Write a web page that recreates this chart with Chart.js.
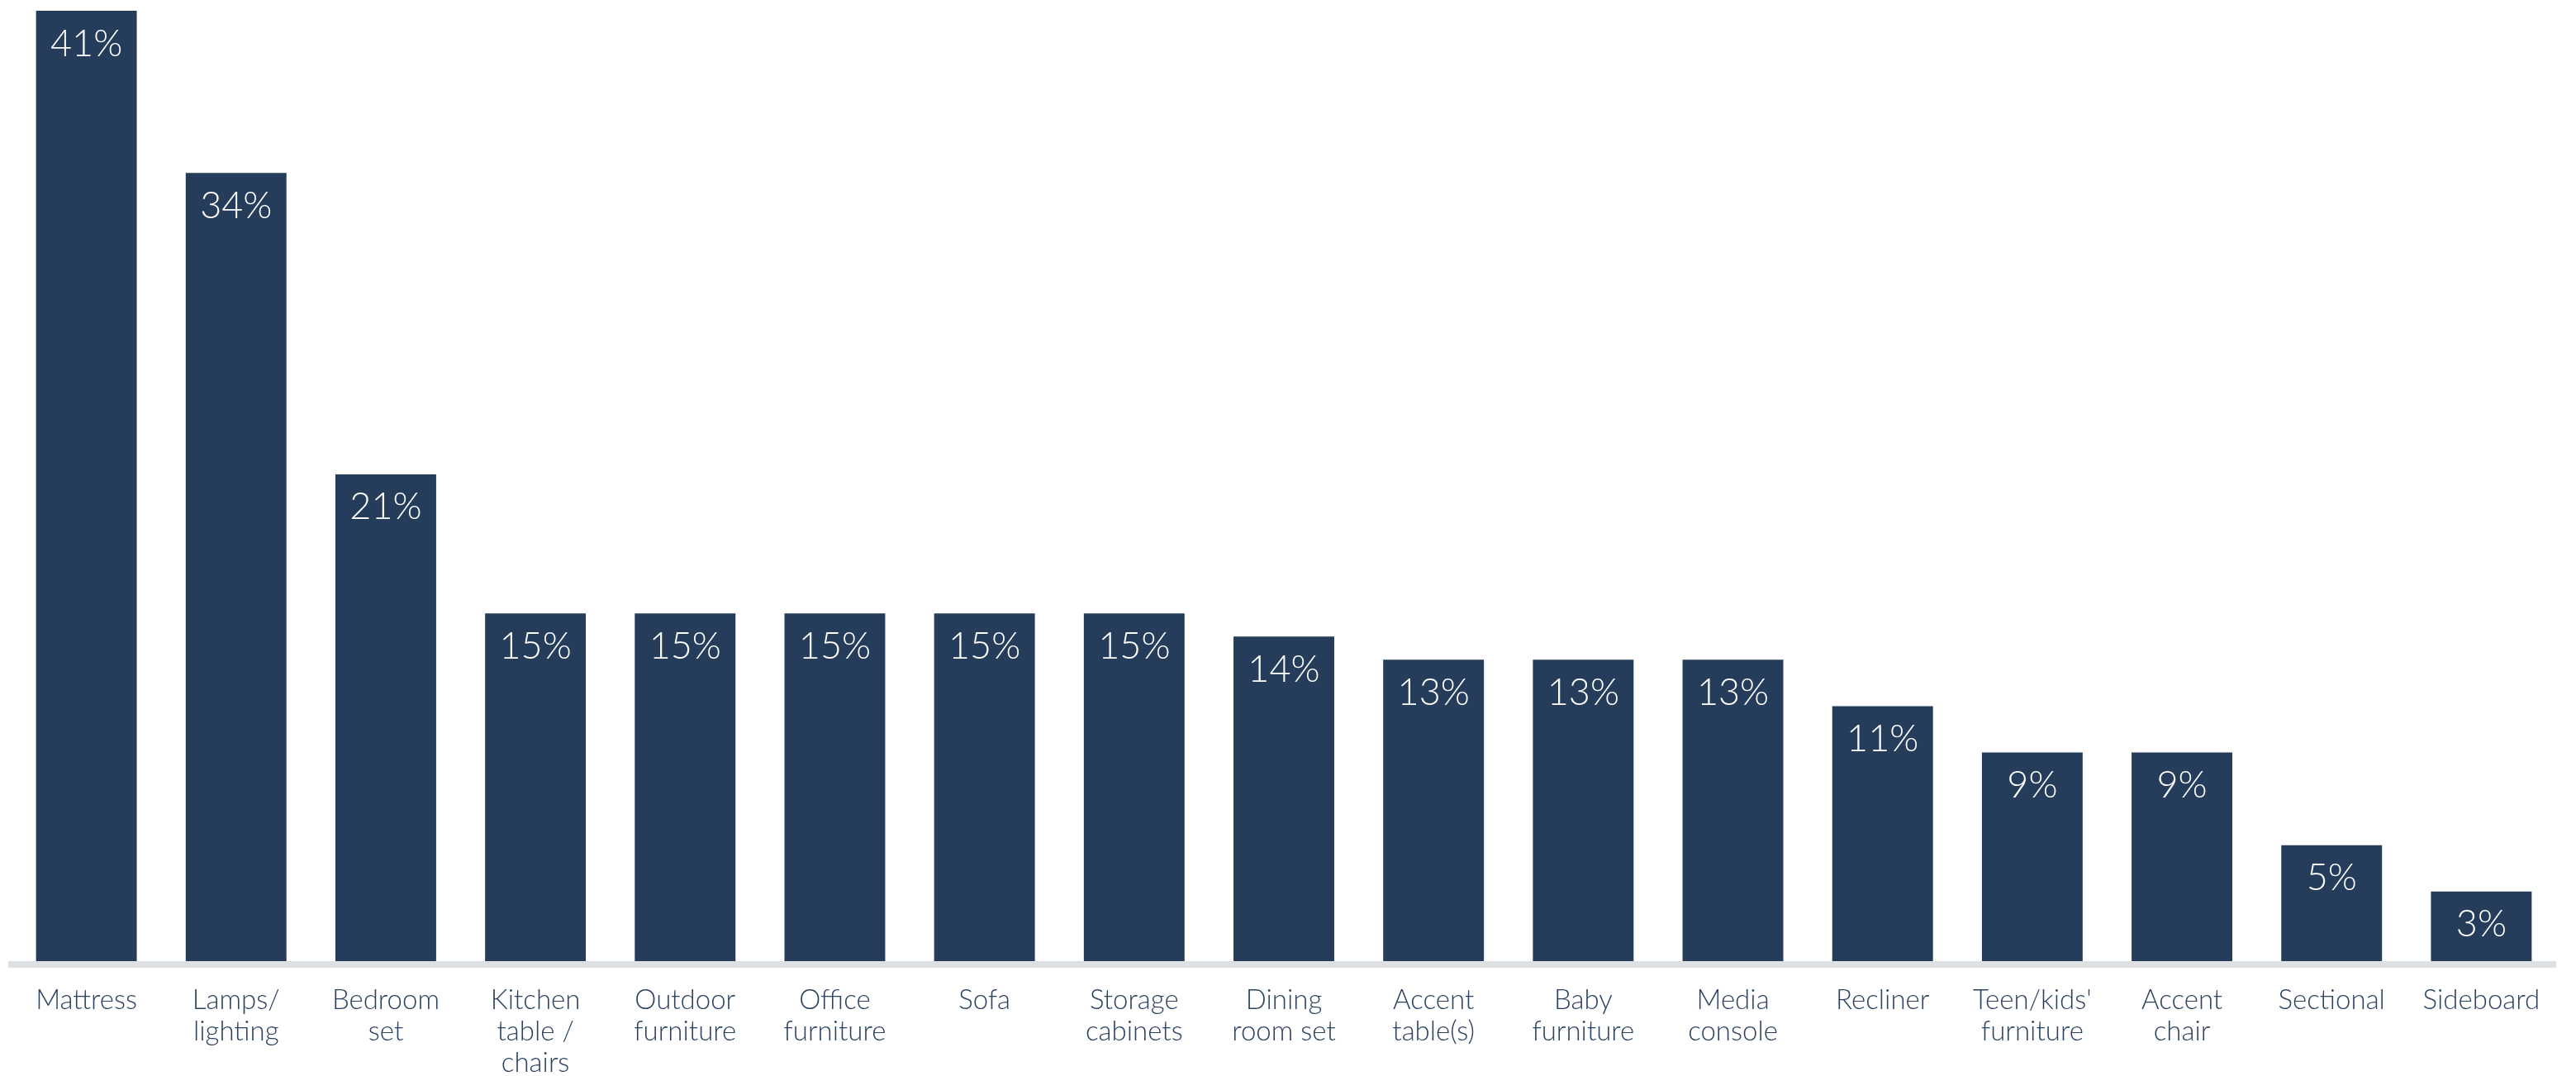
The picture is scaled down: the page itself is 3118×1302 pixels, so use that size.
<!DOCTYPE html>
<html>
<head>
<meta charset="utf-8">
<title>Furniture categories</title>
<script src="https://cdn.jsdelivr.net/npm/chart.js@4"></script>
<style>
  html, body { margin: 0; padding: 0; background: #ffffff; }
  canvas { display: block; }
</style>
</head>
<body>
<canvas id="chart" width="3118" height="1302"></canvas>
<script>
const categories = [
  'Mattress',
  ['Lamps/', 'lighting'],
  ['Bedroom', 'set'],
  ['Kitchen', 'table /', 'chairs'],
  ['Outdoor', 'furniture'],
  ['Office', 'furniture'],
  'Sofa',
  ['Storage', 'cabinets'],
  ['Dining', 'room set'],
  ['Accent', 'table(s)'],
  ['Baby', 'furniture'],
  ['Media', 'console'],
  'Recliner',
  ['Teen/kids\'', 'furniture'],
  ['Accent', 'chair'],
  'Sectional',
  'Sideboard'
];

const shares = [41, 34, 21, 15, 15, 15, 15, 15, 14, 13, 13, 13, 11, 9, 9, 5, 3];

const NAVY = '#253d5a';
const FONT = '"Lato", "Open Sans", sans-serif';

// value labels inside the top of each bar
const barLabels = {
  id: 'barLabels',
  afterDatasetsDraw(chart) {
    const ctx = chart.ctx;
    const meta = chart.getDatasetMeta(0);
    ctx.save();
    ctx.fillStyle = '#ffffff';
    ctx.font = '300 45px ' + FONT;
    ctx.textAlign = 'center';
    ctx.textBaseline = 'middle';
    meta.data.forEach((bar, i) => {
      ctx.fillText(shares[i] + '%', bar.x, bar.y + 40);
    });
    ctx.restore();
  }
};

// thick light baseline under the bars
const baseline = {
  id: 'baseline',
  beforeDatasetsDraw(chart) {
    const { ctx, chartArea } = chart;
    ctx.save();
    ctx.fillStyle = '#dde1e4';
    ctx.fillRect(chartArea.left - 4, chartArea.bottom, chartArea.right - chartArea.left + 4, 8);
    ctx.restore();
  }
};

new Chart(document.getElementById('chart'), {
  type: 'bar',
  data: {
    labels: categories,
    datasets: [{
      data: shares,
      backgroundColor: NAVY,
      barPercentage: 0.673,
      categoryPercentage: 1
    }]
  },
  options: {
    responsive: false,
    animation: false,
    layout: { padding: { left: 14, right: 24, top: 13, bottom: 0 } },
    plugins: {
      legend: { display: false },
      tooltip: { enabled: false }
    },
    scales: {
      y: {
        display: false,
        min: 0,
        max: 41
      },
      x: {
        grid: { display: false },
        border: { display: false },
        ticks: {
          color: '#2b4262',
          font: { family: FONT, size: 33, weight: 300, lineHeight: 1.14 },
          padding: 21,
          maxRotation: 0,
          autoSkip: false
        },
        afterFit(scale) { scale.height = 139; }
      }
    }
  },
  plugins: [baseline, barLabels]
});
</script>
</body>
</html>
